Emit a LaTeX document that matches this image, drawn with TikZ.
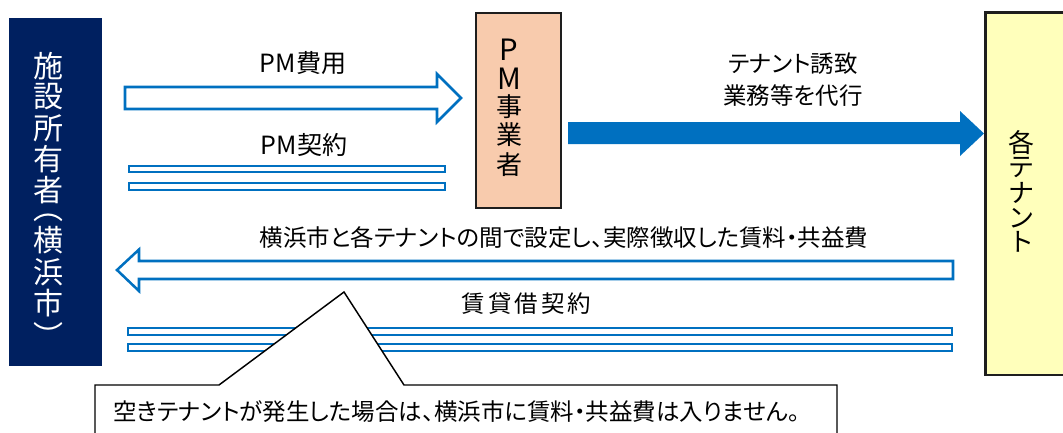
\documentclass[tikz,border=0pt]{standalone}
\usepackage{fontspec}
\setmainfont{Noto Sans CJK JP}
\newfontfamily\jp{Noto Sans CJK JP}
\newfontfamily\jpp[RawFeature=+palt]{Noto Sans CJK JP}
\definecolor{navyfill}{HTML}{002060}
\definecolor{pmblue}{HTML}{0070C0}
\definecolor{peach}{HTML}{F8CBAD}
\definecolor{paleyellow}{HTML}{FFFFBB}
\definecolor{boxline}{HTML}{1E1E1E}
\tikzset{
  lbl/.style={font=\jpp\fontsize{17.6pt}{24pt}\selectfont, inner sep=0pt, text=black},
  biglbl/.style={font=\jpp\fontsize{18.8pt}{24pt}\selectfont, inner sep=0pt, text=black},
  ownerchar/.style={font=\jp\fontsize{22.5pt}{22.5pt}\selectfont, inner sep=0pt, text=white},
  vchar/.style={font=\jp\fontsize{19.5pt}{19.5pt}\selectfont, inner sep=0pt, text=black},
  vlatin/.style={font=\jp\fontsize{22pt}{22pt}\selectfont, inner sep=0pt, text=black},
  outarrow/.style={draw=pmblue, line width=1.9pt, fill=white, line join=miter},
  solidarrow/.style={fill=pmblue},
  barbox/.style={draw=pmblue, line width=1.9pt, fill=white},
  calloutbox/.style={draw=black, line width=1.1pt, fill=white, line join=miter},
}
\begin{document}
\begin{tikzpicture}[x=0.75pt,y=-0.75pt]
\useasboundingbox (0,0) rectangle (1063,432);
\clip (0,0) rectangle (1063,432);

% boxes
\node[fill=navyfill, minimum width=69.75pt, minimum height=261pt, anchor=north west, inner sep=0pt] (owner) at (9,18) {};
\node[fill=peach, draw=boxline, line width=1.5pt, minimum width=63.75pt, minimum height=146.25pt, anchor=north west, inner sep=0pt] (pm) at (475,12) {};
\node[fill=paleyellow, draw=boxline, line width=2pt, minimum width=80pt, minimum height=272pt, anchor=north west, inner sep=0pt] (tenant) at (984,11) {};

% owner vertical text
\foreach \c/\yy [count=\i] in {施/66,設/97,所/128,有/159,者/190,横/240,浜/272,市/303}
  \node[ownerchar] (oc\i) at (48,\yy) {\c};
\node[ownerchar] (oparl) at (48,217.5) {︵};
\node[ownerchar] (oparr) at (48,334.7) {︶};

% PM vertical text
\node[vlatin] (pc1) at (509,50) {P};
\node[vlatin] (pc2) at (509,79) {M};
\foreach \c/\yy [count=\i from 3] in {事/107,業/135,者/165}
  \node[vchar] (pc\i) at (509,\yy) {\c};

% tenant vertical text
\foreach \c/\yy [count=\i] in {各/143,テ/167.5,ナ/193,ン/218,ト/242}
  \node[vchar] (tc\i) at (1021,\yy) {\c};

% PM fee arrow (owner -> PM)
\coordinate (feetip) at (461,98);
\draw[outarrow] (125,87) -- (437,87) -- (437,74) -- (feetip) -- (437,122) -- (437,109) -- (125,109) -- cycle;
\node[biglbl] (feelbl) at (303,63) {PM費用};

% PM contract bars
\node[biglbl] (pmclbl) at (304,145) {PM契約};
\draw[barbox] (129,166) rectangle (445,172);
\draw[barbox] (129,183) rectangle (445,190);

% PM -> tenants solid arrow
\fill[solidarrow] (568,122) -- (960,122) -- (960,111) -- (tenant.west |- 0,133.5) -- (960,156) -- (960,144) -- (568,144) -- cycle;
\node[lbl, align=center] (agentlbl) at (793,80) {テナント誘致\\業務等を代行};

% tenants -> owner rent arrow
\coordinate (renttip) at (117,270);
\draw[outarrow] (953,261) -- (139,261) -- (139,249.5) -- (renttip) -- (139,291) -- (139,279) -- (953,279) -- cycle;
\node[lbl] (rentlbl) at (564,238) {横浜市と各テナントの間で設定し、実際徴収した賃料・共益費};

% lease contract bars
\node[lbl] (leaselbl) at (526.5,304) {賃\hspace{2.25pt}貸\hspace{2.25pt}借\hspace{2.25pt}契\hspace{2.25pt}約};
\draw[barbox] (128,328) rectangle (952,335);
\draw[barbox] (128,344) rectangle (952,351);

% callout
\draw[calloutbox] (95,385) -- (219,385) -- (344,292) -- (404,385) -- (837,385) -- (837,460) -- (95,460) -- cycle;
\node[lbl, anchor=west] (notelbl) at (113,412) {空きテナントが発生した場合は、横浜市に賃料・共益費は入りません。};
\end{tikzpicture}
\end{document}
